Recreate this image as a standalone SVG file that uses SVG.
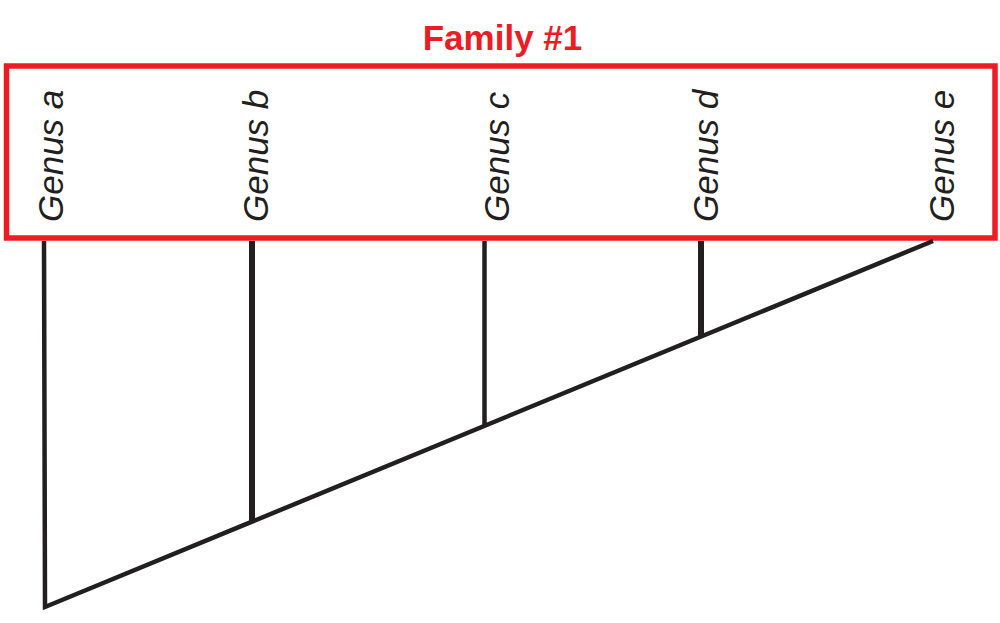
<svg xmlns="http://www.w3.org/2000/svg" width="1000" height="623" viewBox="0 0 1000 623">
<style>
.frame{fill:none;stroke:#ed1c24;stroke-width:5.5}
.title{font-family:"Liberation Sans",Arial,sans-serif;font-weight:bold;font-size:35px;fill:#ed1c24;text-anchor:middle}
.lbl{font-family:"Liberation Sans",Arial,sans-serif;font-style:italic;font-size:35px;fill:#231f20}
.br{fill:none;stroke:#231f20;stroke-width:4.5;stroke-linecap:butt;stroke-linejoin:miter}
.thick{stroke-width:6}
</style>
<rect width="1000" height="623" fill="#fff"/>
<g id="family">
<rect class="frame" x="6.5" y="66" width="988.5" height="172"/>
<text class="title" x="502.5" y="50">Family #1</text>
</g>
<g id="genus-a"><text class="lbl" transform="translate(63,222) rotate(-90)">Genus a</text></g>
<g id="genus-b"><text class="lbl" transform="translate(268,222) rotate(-90)">Genus b</text></g>
<g id="genus-c"><text class="lbl" transform="translate(509,222) rotate(-90)">Genus c</text></g>
<g id="genus-d"><text class="lbl" transform="translate(718,222) rotate(-90)">Genus d</text></g>
<g id="genus-e"><text class="lbl" transform="translate(954,222) rotate(-90)">Genus e</text></g>
<g id="connectors">
<path class="br" d="M44,241 L45,607 L933,241"/>
<path class="br thick" d="M252,241 V522"/>
<path class="br" d="M484.5,241 V426"/>
<path class="br thick" d="M701,241 V337"/>
</g>
</svg>
